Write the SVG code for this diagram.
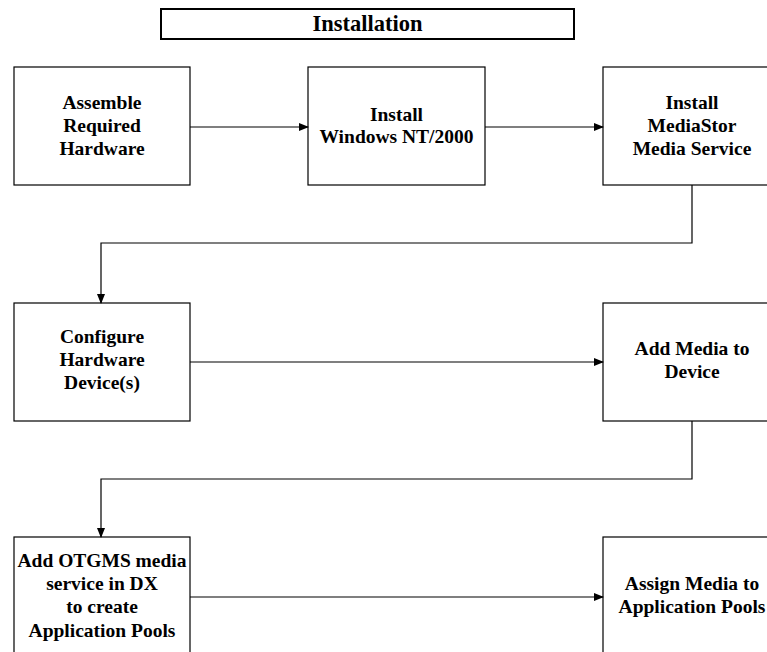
<svg xmlns="http://www.w3.org/2000/svg" width="767" height="652" viewBox="0 0 767 652">
<defs>
<style>
.box{fill:#fff;stroke:#000;stroke-width:1.2}
.t{font-family:"Liberation Serif","Times New Roman",serif;font-weight:bold;font-size:19.5px;fill:#000;text-anchor:middle}
.c{fill:none;stroke:#000;stroke-width:1.2}
</style>
<marker id="ah" markerWidth="10" markerHeight="8" refX="9" refY="4" orient="auto" markerUnits="userSpaceOnUse">
<path d="M0,0 L10,4 L0,8 Z" fill="#000"/>
</marker>
</defs>
<rect width="767" height="652" fill="#fff"/>
<g id="title">
<rect x="161" y="9" width="413" height="30" fill="#fff" stroke="#000" stroke-width="2"/>
<text x="367.5" y="31" class="t" style="font-size:22.5px">Installation</text>
</g>
<g id="n1">
<rect class="box" x="14" y="67" width="176" height="118"/>
<text class="t" x="102" y="109">Assemble</text>
<text class="t" x="102" y="132">Required</text>
<text class="t" x="102" y="155">Hardware</text>
</g>
<g id="n2">
<rect class="box" x="308" y="67" width="177" height="118"/>
<text class="t" x="396.5" y="121">Install</text>
<text class="t" x="396.5" y="143">Windows NT/2000</text>
</g>
<g id="n3">
<rect class="box" x="603" y="67" width="178" height="118"/>
<text class="t" x="692" y="109">Install</text>
<text class="t" x="692" y="132">MediaStor</text>
<text class="t" x="692" y="155">Media Service</text>
</g>
<g id="n4">
<rect class="box" x="14" y="303" width="176" height="118"/>
<text class="t" x="102" y="343">Configure</text>
<text class="t" x="102" y="366">Hardware</text>
<text class="t" x="102" y="389">Device(s)</text>
</g>
<g id="n5">
<rect class="box" x="603" y="303" width="178" height="118"/>
<text class="t" x="692" y="355">Add Media to</text>
<text class="t" x="692" y="378">Device</text>
</g>
<g id="n6">
<rect class="box" x="14" y="537" width="176" height="130"/>
<text class="t" x="102" y="567">Add OTGMS media</text>
<text class="t" x="102" y="590">service in DX</text>
<text class="t" x="102" y="613">to create</text>
<text class="t" x="102" y="637">Application Pools</text>
</g>
<g id="n7">
<rect class="box" x="603" y="537" width="178" height="130"/>
<text class="t" x="692" y="590">Assign Media to</text>
<text class="t" x="692" y="613">Application Pools</text>
</g>
<g id="connectors">
<path class="c" d="M190,127 H308" marker-end="url(#ah)"/>
<path class="c" d="M485,127 H603" marker-end="url(#ah)"/>
<path class="c" d="M692,185 V243 H101 V303" marker-end="url(#ah)"/>
<path class="c" d="M190,362 H603" marker-end="url(#ah)"/>
<path class="c" d="M692,421 V479 H101 V537" marker-end="url(#ah)"/>
<path class="c" d="M190,597 H603" marker-end="url(#ah)"/>
</g>
</svg>
